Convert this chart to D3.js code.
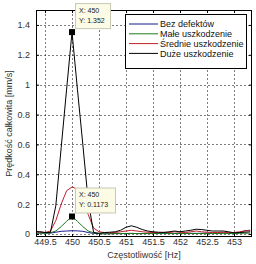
<!DOCTYPE html>
<html>
<head>
<meta charset="utf-8">
<script src="https://d3js.org/d3.v7.min.js"></script>
<style>
  body { margin: 0; background: #fff; }
  text { font-family: "Liberation Sans", Arial, sans-serif; }
</style>
</head>
<body>
<script>
// frequency samples [Hz]
const freq = [449.3, 449.4, 449.5, 449.6, 449.7, 449.8, 449.9, 450.0, 450.1, 450.2,
              450.3, 450.4, 450.5, 450.6, 450.7, 450.8, 450.9, 451.0, 451.1, 451.2,
              451.3, 451.4, 451.5, 451.6, 451.7, 451.8, 451.9, 452.0, 452.1, 452.2,
              452.3, 452.4, 452.5, 452.6, 452.7, 452.8, 452.9, 453.0, 453.1, 453.2, 453.3];

const bezDefektow = [0.006, 0.008, 0.006, 0.006, 0.012, 0.018, 0.02, 0.022, 0.021, 0.018,
                     0.01, 0.004, 0.003, 0.002, 0.002, 0.003, 0.003, 0.003, 0.004, 0.003,
                     0.003, 0.004, 0.004, 0.004, 0.005, 0.004, 0.004, 0.005, 0.004, 0.004,
                     0.004, 0.005, 0.006, 0.006, 0.006, 0.007, 0.006, 0.005, 0.01, 0.022, 0.025];
const maleUszk = [0.005, 0.005, 0.005, 0.008, 0.02, 0.05, 0.085, 0.1173, 0.085, 0.05,
                  0.02, 0.008, 0.003, 0.002, 0.002, 0.003, 0.003, 0.004, 0.004, 0.003,
                  0.003, 0.003, 0.004, 0.004, 0.005, 0.004, 0.003, 0.003, 0.004, 0.004,
                  0.004, 0.003, 0.003, 0.003, 0.004, 0.004, 0.003, 0.003, 0.004, 0.005, 0.006];
const srednieUszk = [0.012, 0.015, 0.01, 0.02, 0.09, 0.2, 0.29, 0.315, 0.3, 0.245,
                     0.13, 0.04, 0.015, 0.01, 0.008, 0.01, 0.015, 0.02, 0.025, 0.02,
                     0.015, 0.012, 0.01, 0.01, 0.012, 0.01, 0.015, 0.012, 0.01, 0.015,
                     0.02, 0.015, 0.012, 0.01, 0.01, 0.012, 0.01, 0.01, 0.015, 0.02, 0.025];
const duzeUszk = [0.018, 0.015, 0.01, 0.01, 0.19, 0.58, 0.97, 1.352, 0.97, 0.6,
                  0.22, 0.01, 0.005, 0.01, 0.012, 0.015, 0.025, 0.045, 0.055, 0.045,
                  0.03, 0.02, 0.015, 0.012, 0.01, 0.015, 0.02, 0.015, 0.02, 0.025,
                  0.032, 0.03, 0.025, 0.02, 0.02, 0.02, 0.015, 0.008, 0.01, 0.012, 0.015];

const seriesNames = ["Bez defektów", "Małe uszkodzenie", "Średnie uszkodzenie", "Duże uszkodzenie"];
const seriesValues = [bezDefektow, maleUszk, srednieUszk, duzeUszk];
const seriesColors = ["#1a1a8c", "#1e7a1e", "#c41e2a", "#000000"];

const xTicks = [449.5, 450, 450.5, 451, 451.5, 452, 452.5, 453];
const yTicks = [0, 0.2, 0.4, 0.6, 0.8, 1, 1.2, 1.4];

// data tips: [x, y]
const tips = [[450, 1.352], [450, 0.1173]];

const W = 256, H = 264;
const mLeft = 36, mRight = 252, mTop = 10, mBottom = 237;

const svg = d3.select("body").append("svg")
    .attr("width", W).attr("height", H);

const x = d3.scaleLinear().domain([449.333, 453.333]).range([mLeft, mRight]);
const y = d3.scaleLinear().domain([-0.02, 1.5]).range([mBottom, mTop]);

svg.append("defs").append("clipPath").attr("id", "clip")
  .append("rect").attr("x", mLeft).attr("y", mTop)
  .attr("width", mRight - mLeft).attr("height", mBottom - mTop);

// grid
const grid = svg.append("g").attr("stroke", "#000").attr("stroke-width", 0.6)
    .attr("stroke-dasharray", "2,2").attr("opacity", 0.85);
grid.selectAll(".gx").data(xTicks).join("line")
    .attr("x1", d => Math.round(x(d)) + 0.5).attr("x2", d => Math.round(x(d)) + 0.5)
    .attr("y1", mTop).attr("y2", mBottom);
grid.selectAll(".gy").data(yTicks).join("line")
    .attr("y1", d => Math.round(y(d)) + 0.5).attr("y2", d => Math.round(y(d)) + 0.5)
    .attr("x1", mLeft).attr("x2", mRight);

// axes
const xAxis = d3.axisBottom(x).tickValues(xTicks).tickSizeInner(-3).tickSizeOuter(0)
    .tickPadding(2).tickFormat(d3.format("~g"));
const yAxis = d3.axisLeft(y).tickValues(yTicks).tickSizeInner(-3).tickSizeOuter(0)
    .tickPadding(6).tickFormat(d3.format("~g"));

const gx = svg.append("g").attr("transform", `translate(0,${mBottom})`).call(xAxis);
const gy = svg.append("g").attr("transform", `translate(${mLeft},0)`).call(yAxis);
[gx, gy].forEach(g => {
  g.select(".domain").remove();
  g.selectAll("text").attr("font-size", 9).attr("fill", "#333")
    .attr("font-family", "Liberation Sans, Arial, sans-serif");
});

// top/right ticks
svg.append("g").attr("transform", `translate(0,${mTop})`)
  .call(d3.axisTop(x).tickValues(xTicks).tickSizeInner(-3).tickSizeOuter(0).tickFormat(""))
  .select(".domain").remove();
svg.append("g").attr("transform", `translate(${mRight},0)`)
  .call(d3.axisRight(y).tickValues(yTicks).tickSizeInner(-3).tickSizeOuter(0).tickFormat(""))
  .select(".domain").remove();

// lines
const line = d3.line().x((d, i) => x(freq[i])).y(d => y(d));
svg.append("g").attr("clip-path", "url(#clip)")
  .selectAll("path").data(seriesValues).join("path")
    .attr("d", line)
    .attr("fill", "none")
    .attr("stroke", (d, i) => seriesColors[i])
    .attr("stroke-width", 1);

// box
svg.append("rect").attr("x", mLeft + 0.5).attr("y", mTop + 0.5)
  .attr("width", mRight - mLeft - 1).attr("height", mBottom - mTop - 1)
  .attr("fill", "none").attr("stroke", "#000").attr("stroke-width", 1);

// legend
const lg = svg.append("g");
lg.append("rect").attr("x", 125.5).attr("y", 14.5).attr("width", 121).attr("height", 54)
  .attr("fill", "#fff").attr("stroke", "#000");
seriesNames.forEach((name, i) => {
  const ly = 24 + i * 9.8;
  lg.append("line").attr("x1", 129).attr("x2", 158).attr("y1", ly).attr("y2", ly)
    .attr("stroke", seriesColors[i]).attr("stroke-width", 1);
  lg.append("text").attr("x", 160).attr("y", ly).attr("dy", "0.35em")
    .attr("font-size", 9).attr("fill", "#111").text(name);
});

// data tips
tips.forEach(([tx, ty]) => {
  const px = x(tx), py = y(ty);
  svg.append("rect").attr("x", px - 3).attr("y", py - 3).attr("width", 6).attr("height", 6)
    .attr("fill", "#000");
  const bx = px + 3, byTop = py - 29;
  svg.append("rect").attr("x", bx + 0.5).attr("y", byTop + 0.5)
    .attr("width", ty > 1 ? 35 : 40).attr("height", 25)
    .attr("fill", "#fbfbe6").attr("stroke", "#c8c8b4");
  svg.append("text").attr("x", bx + 4).attr("y", byTop + 10)
    .attr("font-size", 7).attr("fill", "#222").text("X: " + tx);
  svg.append("text").attr("x", bx + 4).attr("y", byTop + 20)
    .attr("font-size", 7).attr("fill", "#222").text("Y: " + ty);
});

// axis labels
svg.append("text").attr("x", (mLeft + mRight) / 2).attr("y", 258)
  .attr("text-anchor", "middle").attr("font-size", 9).attr("fill", "#333")
  .text("Częstotliwość [Hz]");
svg.append("text").attr("transform", `translate(12,${(mTop + mBottom) / 2}) rotate(-90)`)
  .attr("text-anchor", "middle").attr("font-size", 9).attr("fill", "#333")
  .text("Prędkość całkowita [mm/s]");
</script>
</body>
</html>
